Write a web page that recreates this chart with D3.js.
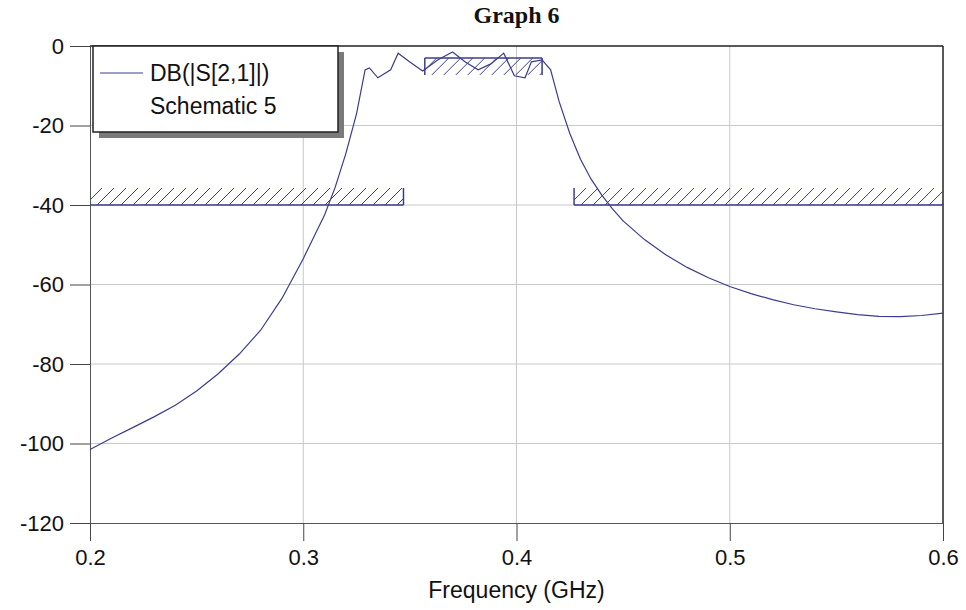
<!DOCTYPE html>
<html>
<head>
<meta charset="utf-8">
<script src="https://cdn.jsdelivr.net/npm/d3@7"></script>
<style>
  body { margin: 0; background: #fff; overflow: hidden; }
  svg { display: block; }
</style>
</head>
<body>
<svg id="chart" width="966" height="610"></svg>
<script>
// S21 trace (GHz, dB)
const freq = [0.2, 0.21, 0.22, 0.23, 0.24, 0.25, 0.26, 0.27, 0.28, 0.29, 0.3, 0.305, 0.31, 0.315, 0.32, 0.325,
  0.329, 0.331, 0.335, 0.338, 0.341, 0.3445, 0.35, 0.356, 0.363, 0.37, 0.376, 0.382, 0.388, 0.394, 0.399,
  0.404, 0.407, 0.412, 0.416, 0.42, 0.425, 0.43, 0.435, 0.44, 0.445, 0.45, 0.46, 0.47, 0.48, 0.49, 0.5,
  0.51, 0.52, 0.53, 0.54, 0.55, 0.56, 0.57, 0.58, 0.59, 0.6];
const s21 = [-101.5, -98.7, -96, -93.3, -90.4, -86.8, -82.5, -77.5, -71.5, -63.5, -53.5, -48, -42.5, -35.5, -27, -17,
  -6, -5.5, -8, -7, -6, -1.8, -4, -6.3, -3.5, -1.5, -4, -6, -4.5, -1.8, -7.5,
  -8, -4, -3.5, -6, -14, -22, -28.5, -33.5, -37.5, -41, -44, -48.7, -52.5, -55.7, -58.3, -60.5,
  -62.3, -63.8, -65.1, -66.1, -66.9, -67.6, -68, -68.1, -67.8, -67.2];

// goal masks
const maskStart = [0.2, 0.427, 0.357];
const maskEnd = [0.347, 0.6, 0.412];
const maskLevel = [-40, -40, -3];
const maskSide = ['above', 'above', 'below'];

const xTicks = [0.2, 0.3, 0.4, 0.5, 0.6];
const yTicks = [0, -20, -40, -60, -80, -100, -120];

const svg = d3.select('#chart');
const width = +svg.attr('width');
const height = +svg.attr('height');
const margin = { top: 46, right: 23, bottom: 87, left: 90 };
const innerWidth = width - margin.left - margin.right;
const innerHeight = height - margin.top - margin.bottom;
const traceColor = '#3c3c8e';
const sans = '"Liberation Sans", Arial, sans-serif';

const xScale = d3.scaleLinear().domain([0.2, 0.6]).range([0, innerWidth]);
const yScale = d3.scaleLinear().domain([-120, 0]).range([innerHeight, 0]);

const g = svg.append('g')
  .attr('transform', `translate(${margin.left},${margin.top})`);

// grid
g.append('g').selectAll('line')
  .data(xTicks.slice(1, -1))
  .enter().append('line')
  .attr('x1', d => xScale(d)).attr('x2', d => xScale(d))
  .attr('y1', 0).attr('y2', innerHeight)
  .attr('stroke', '#c8c8c8');
g.append('g').selectAll('line')
  .data(yTicks.slice(1, -1))
  .enter().append('line')
  .attr('x1', 0).attr('x2', innerWidth)
  .attr('y1', d => yScale(d)).attr('y2', d => yScale(d))
  .attr('stroke', '#c8c8c8');

// axes
const yAxis = d3.axisLeft(yScale).tickValues(yTicks).tickSize(20).tickPadding(6)
  .tickFormat(d => String(d));
const yAxisG = g.append('g').call(yAxis)
  .attr('font-size', 22).attr('font-family', sans);
yAxisG.select('.domain').attr('stroke', '#555');
yAxisG.selectAll('.tick line').attr('stroke', '#444');
yAxisG.selectAll('.tick text').attr('fill', '#111');

const xAxis = d3.axisBottom(xScale).tickValues(xTicks).tickSize(18).tickPadding(8)
  .tickFormat(d3.format('.1f'));
const xAxisG = g.append('g').attr('transform', `translate(0,${innerHeight})`).call(xAxis)
  .attr('font-size', 22).attr('font-family', sans);
xAxisG.select('.domain').attr('stroke', '#555');
xAxisG.selectAll('.tick line').attr('stroke', '#444');
xAxisG.selectAll('.tick text').attr('fill', '#111');

// frame top/right
g.append('line').attr('x1', 0).attr('x2', innerWidth).attr('y1', 0).attr('y2', 0)
  .attr('stroke', '#222').attr('stroke-width', 1.5);
g.append('line').attr('x1', innerWidth).attr('x2', innerWidth).attr('y1', 0).attr('y2', innerHeight)
  .attr('stroke', '#222').attr('stroke-width', 1.5);

// masks with hatching
const hatchH = 17;
const hatchStep = 12;
maskLevel.forEach((lvl, i) => {
  const x0 = xScale(maskStart[i]);
  const x1 = xScale(maskEnd[i]);
  const y0 = yScale(lvl);
  const yTop = maskSide[i] === 'above' ? y0 - hatchH : y0;
  const yBot = yTop + hatchH;
  const clipId = 'clip' + i;
  g.append('clipPath').attr('id', clipId)
    .append('rect').attr('x', x0).attr('y', yTop).attr('width', x1 - x0).attr('height', hatchH);
  const starts = d3.range(x0 - hatchH, x1, hatchStep);
  g.append('g').attr('clip-path', `url(#${clipId})`)
    .selectAll('line').data(starts).enter().append('line')
    .attr('x1', d => d).attr('y1', yBot)
    .attr('x2', d => d + hatchH).attr('y2', yTop)
    .attr('stroke', traceColor).attr('stroke-width', 1);
  g.append('line').attr('x1', x0).attr('x2', x1).attr('y1', y0).attr('y2', y0)
    .attr('stroke', traceColor).attr('stroke-width', 1.5);
  [x0, x1].forEach(xe => {
    if (xe <= 0.5 || xe >= innerWidth - 0.5) return;
    g.append('line').attr('x1', xe).attr('x2', xe).attr('y1', yTop).attr('y2', yBot)
      .attr('stroke', traceColor).attr('stroke-width', 1.5);
  });
});

// trace
const line = d3.line()
  .x((d, i) => xScale(freq[i]))
  .y(d => yScale(d));
g.append('path').datum(s21)
  .attr('d', line)
  .attr('fill', 'none')
  .attr('stroke', traceColor)
  .attr('stroke-width', 1.2);

// legend
const lg = g.append('g').attr('transform', 'translate(3,0)');
lg.append('rect').attr('x', 6).attr('y', 6).attr('width', 245).attr('height', 86).attr('fill', '#7a7a7a');
lg.append('rect').attr('x', 0).attr('y', 0).attr('width', 245).attr('height', 86)
  .attr('fill', '#fff').attr('stroke', '#222').attr('stroke-width', 1.5);
lg.append('line').attr('x1', 7).attr('x2', 50).attr('y1', 27).attr('y2', 27)
  .attr('stroke', traceColor).attr('stroke-width', 1.2);
lg.append('text').attr('x', 57).attr('y', 35).text('DB(|S[2,1]|)')
  .attr('font-family', sans).attr('font-size', 23).attr('fill', '#111');
lg.append('text').attr('x', 57).attr('y', 68).text('Schematic 5')
  .attr('font-family', sans).attr('font-size', 23).attr('fill', '#111');

// titles
svg.append('text').attr('x', margin.left + innerWidth / 2).attr('y', 23)
  .attr('text-anchor', 'middle').text('Graph 6')
  .attr('font-family', '"Liberation Serif", "Times New Roman", serif')
  .attr('font-size', 24).attr('font-weight', 'bold').attr('fill', '#111');
svg.append('text').attr('x', margin.left + innerWidth / 2).attr('y', 598)
  .attr('text-anchor', 'middle').text('Frequency (GHz)')
  .attr('font-family', sans).attr('font-size', 23).attr('fill', '#111');
</script>
</body>
</html>
